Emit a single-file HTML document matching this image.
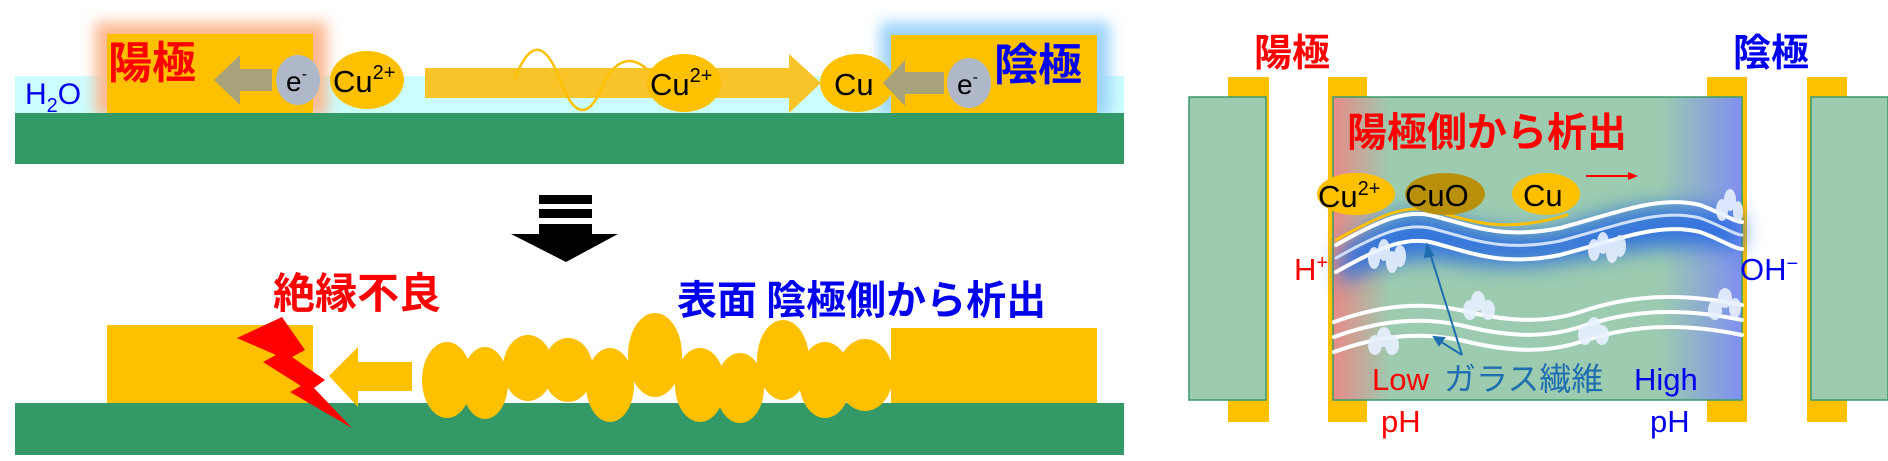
<!DOCTYPE html>
<html><head><meta charset="utf-8"><style>
html,body{margin:0;padding:0;background:#fff;}
svg{display:block;}
text{font-family:"Liberation Sans","Noto Sans CJK JP",sans-serif;}
.jp{font-family:"Noto Sans CJK JP",sans-serif;font-weight:bold;}
</style></head><body>
<svg width="1888" height="461" viewBox="0 0 1888 461" xmlns="http://www.w3.org/2000/svg">
<defs>
<filter id="bl" x="-20%" y="-40%" width="140%" height="180%"><feGaussianBlur stdDeviation="7"/></filter>
<filter id="bl2" x="-30%" y="-60%" width="160%" height="220%"><feGaussianBlur stdDeviation="10"/></filter>
<linearGradient id="grad" x1="0" x2="1" y1="0" y2="0">
<stop offset="0" stop-color="#e88a86"/><stop offset="0.14" stop-color="#9ccbb0"/><stop offset="0.8" stop-color="#9ccbb0"/><stop offset="1" stop-color="#7f8ff0"/>
</linearGradient>
</defs>
<rect x="15" y="76" width="1109" height="38" fill="#ccfdfd"/>
<rect x="95" y="22" width="232" height="94" fill="#fbb890" filter="url(#bl)"/>
<rect x="880" y="22" width="230" height="94" fill="#9cd3fb" filter="url(#bl)"/>
<rect x="107" y="34" width="206" height="80" fill="#ffc000"/>
<rect x="891" y="35" width="206" height="79" fill="#ffc000"/>
<rect x="15" y="113" width="1109" height="51" fill="#339966"/>
<text x="25" y="104" font-size="30" fill="#0000ee">H<tspan font-size="20" dy="8">2</tspan><tspan dy="-8">O</tspan></text>
<text x="108" y="78" font-size="44" fill="#ff0000" class="jp">陽極</text>
<text x="994" y="80" font-size="44" fill="#0000ee" class="jp">陰極</text>
<polygon points="214,80 240,55 240,69 272,69 272,91 240,91 240,105" fill="#a8a27a"/>
<ellipse cx="298" cy="80" rx="22" ry="25" fill="#aeb8c8"/>
<text x="286" y="91" font-size="28" fill="#000">e<tspan font-size="16" dy="-12">-</tspan></text>
<ellipse cx="367" cy="80" rx="37" ry="29" fill="#ffc000"/>
<text x="333" y="92" font-size="31" fill="#000">Cu<tspan font-size="20" dy="-13">2+</tspan></text>
<polygon points="425,68 789,68 789,54 821,83 789,113 789,98 425,98" fill="#f8c42a"/>
<path d="M515,78 C530,40 545,40 560,80 C575,120 590,120 605,80 C620,55 635,58 648,70" fill="none" stroke="#ffc000" stroke-width="2.5"/>
<ellipse cx="684" cy="83" rx="37" ry="29" fill="#ffc000"/>
<text x="650" y="95" font-size="31" fill="#000">Cu<tspan font-size="20" dy="-13">2+</tspan></text>
<ellipse cx="857" cy="83" rx="37" ry="29" fill="#ffc000"/>
<text x="834" y="95" font-size="31" fill="#000">Cu</text>
<polygon points="883,83 905,60 905,72 944,72 944,94 905,94 905,106" fill="#a8a27a"/>
<ellipse cx="969" cy="83" rx="22" ry="25" fill="#aeb8c8"/>
<text x="957" y="94" font-size="28" fill="#000">e<tspan font-size="16" dy="-12">-</tspan></text>
<rect x="539" y="195" width="53" height="9" fill="#000"/>
<rect x="539" y="209" width="53" height="9" fill="#000"/>
<rect x="539" y="224" width="53" height="10" fill="#000"/>
<polygon points="511,234 618,234 566,262" fill="#000"/>
<text x="273" y="308" font-size="42" fill="#ff0000" class="jp">絶縁不良</text>
<text x="677" y="314" font-size="40" fill="#0000ee" class="jp">表面 陰極側から析出</text>
<rect x="107" y="325" width="206" height="80" fill="#ffc000"/>
<rect x="891" y="328" width="206" height="77" fill="#ffc000"/>
<rect x="15" y="403" width="1109" height="52" fill="#339966"/>
<polygon points="329,376 358,347 358,362 412,362 412,391 358,391 358,407" fill="#ffc000"/>
<g fill="#ffc000">
<ellipse cx="447" cy="380" rx="25" ry="38"/>
<ellipse cx="485" cy="383" rx="23" ry="36"/>
<ellipse cx="528" cy="368" rx="25" ry="33"/>
<ellipse cx="568" cy="370" rx="25" ry="32"/>
<ellipse cx="610" cy="385" rx="24" ry="37"/>
<ellipse cx="655" cy="355" rx="27" ry="42"/>
<ellipse cx="700" cy="385" rx="25" ry="37"/>
<ellipse cx="740" cy="388" rx="24" ry="35"/>
<ellipse cx="783" cy="360" rx="26" ry="40"/>
<ellipse cx="825" cy="380" rx="26" ry="38"/>
<ellipse cx="865" cy="375" rx="28" ry="36"/>
</g>
<polygon points="237,338 282,317 305,350 292,357 325,380 314,388 352,428 290,392 301,386 263,362 276,355" fill="#ff0000"/>
<text x="1254" y="66" font-size="38" fill="#ff0000" class="jp">陽極</text>
<text x="1733" y="66" font-size="38" fill="#0000ee" class="jp">陰極</text>
<g fill="#ffc000">
<rect x="1228" y="77" width="41" height="345"/>
<rect x="1328" y="77" width="39" height="345"/>
<rect x="1707" y="77" width="40" height="345"/>
<rect x="1807" y="77" width="40" height="345"/>
</g>
<rect x="1189" y="97" width="77" height="303" fill="#9ccbb0" stroke="#3a9a6a" stroke-width="1.5"/>
<rect x="1811" y="97" width="77" height="303" fill="#9ccbb0" stroke="#3a9a6a" stroke-width="1.5"/>
<rect x="1333" y="97" width="409" height="303" fill="url(#grad)" stroke="#3a9a6a" stroke-width="1.5"/>
<path d="M1340,250 C1380,215 1410,205 1440,215 C1480,228 1520,240 1570,225 C1620,210 1660,195 1742,215 L1742,250 C1660,240 1620,255 1570,260 C1520,270 1480,265 1440,260 C1400,255 1370,270 1340,285 Z" fill="#2a6de0" filter="url(#bl2)" opacity="0.9"/>
<g fill="none" stroke-linecap="round">
<path d="M1336,245 C1380,220 1405,210 1430,215 C1470,225 1500,240 1560,228 C1620,212 1660,195 1700,205 C1720,212 1735,222 1742,222" stroke="#fff" stroke-width="4"/>
<path d="M1336,258 C1380,233 1405,223 1430,228 C1470,238 1500,253 1560,241 C1620,225 1660,208 1700,218 C1720,225 1735,235 1742,235" stroke="#cfe0ff" stroke-width="3"/>
<path d="M1336,272 C1380,247 1405,237 1430,242 C1470,252 1500,267 1560,255 C1620,239 1660,222 1700,232 C1720,239 1735,249 1742,249" stroke="#fff" stroke-width="4"/>
<path d="M1336,240 C1380,215 1405,205 1430,210 C1470,220 1500,235 1567,215" stroke="#ffc000" stroke-width="3"/>
<path d="M1334,322 C1380,305 1420,302 1460,310 C1500,320 1540,325 1580,312 C1630,295 1680,292 1742,305" stroke="#fff" stroke-width="4"/>
<path d="M1334,337 C1380,320 1420,317 1460,325 C1500,335 1540,340 1580,327 C1630,310 1680,307 1742,320" stroke="#fff" stroke-width="4"/>
<path d="M1334,352 C1380,335 1420,332 1460,340 C1500,350 1540,355 1580,342 C1630,325 1680,322 1742,335" stroke="#fff" stroke-width="4"/>
</g>
<g fill="#e8f0ff" opacity="0.9">
<ellipse cx="1374" cy="258" rx="6" ry="11"/><ellipse cx="1384" cy="250" rx="6" ry="11"/><ellipse cx="1392" cy="262" rx="6" ry="11"/><ellipse cx="1400" cy="256" rx="6" ry="11"/>
<ellipse cx="1594" cy="250" rx="6" ry="11"/><ellipse cx="1603" cy="243" rx="6" ry="11"/><ellipse cx="1612" cy="252" rx="6" ry="11"/><ellipse cx="1620" cy="246" rx="6" ry="11"/>
<ellipse cx="1722" cy="210" rx="6" ry="11"/><ellipse cx="1730" cy="200" rx="6" ry="11"/><ellipse cx="1738" cy="212" rx="5" ry="11"/>
<ellipse cx="1470" cy="310" rx="7" ry="10"/><ellipse cx="1478" cy="301" rx="7" ry="10"/><ellipse cx="1488" cy="310" rx="7" ry="10"/>
<ellipse cx="1715" cy="310" rx="7" ry="10"/><ellipse cx="1725" cy="298" rx="7" ry="10"/><ellipse cx="1735" cy="308" rx="6" ry="10"/>
<ellipse cx="1375" cy="345" rx="7" ry="10"/><ellipse cx="1384" cy="337" rx="7" ry="10"/><ellipse cx="1392" cy="345" rx="7" ry="10"/>
<ellipse cx="1585" cy="335" rx="7" ry="10"/><ellipse cx="1594" cy="327" rx="7" ry="10"/><ellipse cx="1602" cy="335" rx="7" ry="10"/>
</g>
<text x="1347" y="146" font-size="40" fill="#ff0000" class="jp">陽極側から析出</text>
<ellipse cx="1356" cy="194" rx="39" ry="21" fill="#ffc000"/>
<text x="1318" y="207" font-size="31" fill="#000">Cu<tspan font-size="20" dy="-12">2+</tspan></text>
<ellipse cx="1445" cy="194" rx="40" ry="21" fill="#b8900c"/>
<text x="1405" y="206" font-size="31" fill="#000">CuO</text>
<ellipse cx="1546" cy="194" rx="34" ry="21" fill="#ffc000"/>
<text x="1523" y="206" font-size="31" fill="#000">Cu</text>
<line x1="1586" y1="176" x2="1632" y2="176" stroke="#ff0000" stroke-width="2"/>
<polygon points="1638,176 1628,172 1628,180" fill="#ff0000"/>
<g stroke="#1f6fb0" stroke-width="2" fill="#1f6fb0">
<line x1="1462" y1="355" x2="1429" y2="250"/><polygon points="1427,245 1425,257 1433,255"/>
<line x1="1462" y1="355" x2="1438" y2="340"/><polygon points="1434,337 1444,338 1439,345"/>
</g>
<text x="1294" y="280" font-size="31" fill="#ff0000">H<tspan font-size="20" dy="-11">+</tspan></text>
<text x="1740" y="280" font-size="31" fill="#0000ee">OH<tspan font-size="20" dy="-10">−</tspan></text>
<text x="1372" y="390" font-size="31" fill="#ff0000">Low</text>
<text x="1444" y="390" font-size="32" fill="#1f6fb0" font-family="Noto Sans CJK JP,sans-serif">ガラス繊維</text>
<text x="1634" y="390" font-size="31" fill="#0000ee">High</text>
<text x="1381" y="432" font-size="31" fill="#ff0000">pH</text>
<text x="1650" y="432" font-size="31" fill="#0000ee">pH</text>
</svg>
</body></html>
